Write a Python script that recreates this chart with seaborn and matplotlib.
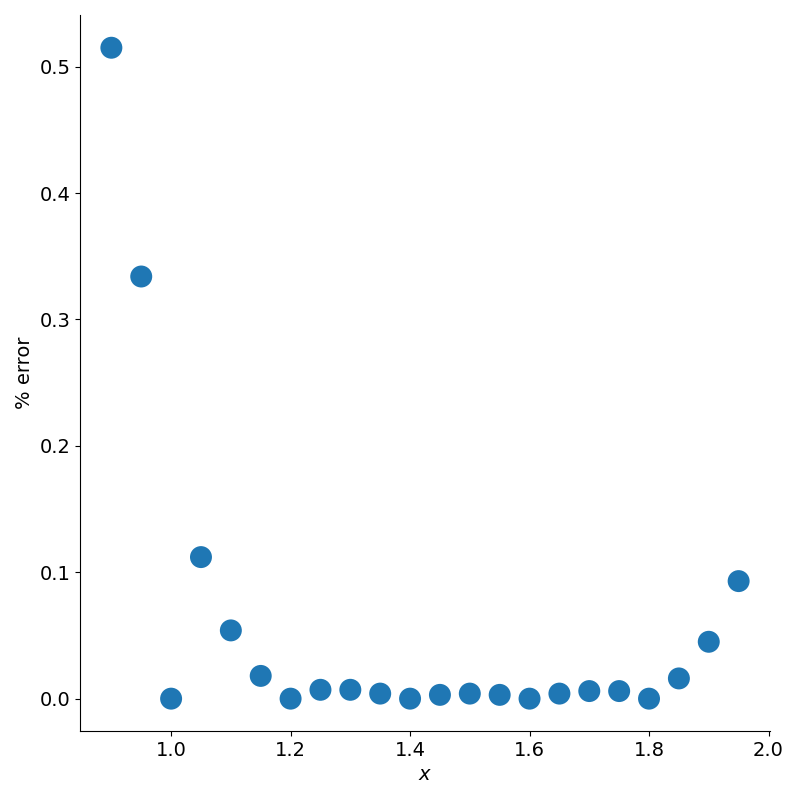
import matplotlib
matplotlib.use("Agg")
import matplotlib.pyplot as plt
import numpy as np
import seaborn as sns
import pandas as pd

x_vals = [0.90, 0.95, 1.00, 1.05, 1.10, 1.15, 1.20, 1.25, 1.30, 1.35, 1.40,
          1.45, 1.50, 1.55, 1.60, 1.65, 1.70, 1.75, 1.80, 1.85, 1.90, 1.95]
err_vals = [0.515, 0.334, 0.0, 0.112, 0.054, 0.018, 0.0, 0.007, 0.007, 0.004, 0.0,
            0.003, 0.004, 0.003, 0.0, 0.004, 0.006, 0.006, 0.0, 0.016, 0.045, 0.093]

df = pd.DataFrame({'x': x_vals, 'err': err_vals})

sns.set_style('ticks')
plt.rcParams['font.size'] = 14
plt.rcParams['axes.labelsize'] = 14
plt.rcParams['xtick.labelsize'] = 14
plt.rcParams['ytick.labelsize'] = 14
# plain black text and spines
for k in ['text.color', 'axes.labelcolor', 'xtick.color', 'ytick.color', 'axes.edgecolor']:
    plt.rcParams[k] = 'black'

g = sns.relplot(x='x', y='err', data=df, height=8, aspect=1, s=250,
                color='#1f77b4', edgecolor='none')
g.set_axis_labels('$x$', '% error')
g.figure.subplots_adjust(left=0.1, right=0.9625, top=0.981, bottom=0.086)
g.figure.savefig('out.png', dpi=100)
